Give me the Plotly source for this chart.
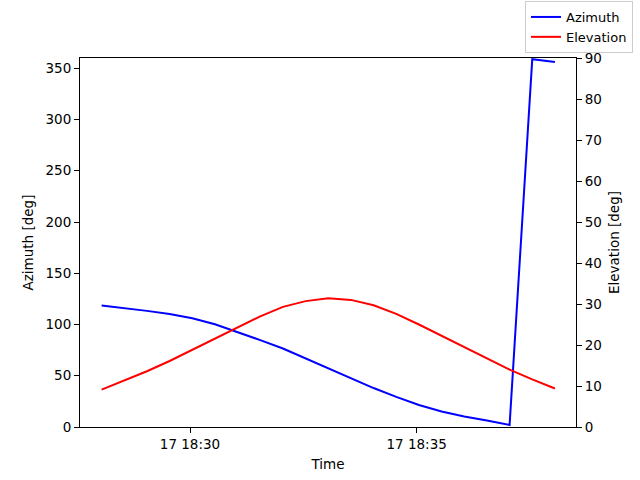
import plotly.graph_objects as go
import pandas as pd

start_time = "2023-05-17 18:28:03"
step_seconds = 30
azimuth = [118.5, 116.0, 113.3, 110.2, 106.0, 100.3, 92.8, 84.8, 76.6, 67.0,
           57.0, 47.2, 38.0, 29.4, 21.4, 15.2, 10.3, 6.3, 2.0, 358.8, 356.2]
elevation = [9.1, 11.3, 13.6, 16.1, 18.8, 21.6, 24.4, 27.0, 29.3, 30.7,
             31.4, 31.0, 29.7, 27.6, 25.0, 22.2, 19.4, 16.7, 14.0, 11.6, 9.4]
times = pd.date_range(start=start_time, periods=len(azimuth), freq=f"{step_seconds}s")

x_range = ["2023-05-17 18:27:34.4", "2023-05-17 18:38:30.9"]
az_ticks = [0, 50, 100, 150, 200, 250, 300, 350]
el_ticks = [0, 10, 20, 30, 40, 50, 60, 70, 80, 90]

font = dict(family="DejaVu Sans", size=13.5, color="black")
legend_font = dict(family="DejaVu Sans", size=13, color="black")

fig = go.Figure()
fig.add_trace(go.Scatter(x=times, y=azimuth, mode="lines", name="Azimuth",
                         line=dict(color="blue", width=2), yaxis="y"))
fig.add_trace(go.Scatter(x=times, y=elevation, mode="lines", name="Elevation",
                         line=dict(color="red", width=2), yaxis="y2"))

axis_common = dict(showline=True, linecolor="black", linewidth=1, ticks="outside",
                   ticklen=5, tickcolor="black", showgrid=False, zeroline=False,
                   tickfont=font, automargin=False)

fig.update_layout(
    width=640, height=480,
    margin=dict(l=80, r=64, t=58, b=53, autoexpand=False),
    plot_bgcolor="white", paper_bgcolor="white",
    font=font,
    xaxis=dict(**axis_common, range=x_range, tickformat="%d %H:%M", dtick=300000,
               mirror=True, title=dict(text="Time", font=font, standoff=8)),
    yaxis=dict(**axis_common, range=[0, 360], tickvals=az_ticks,
               title=dict(text="Azimuth [deg]", font=font, standoff=8)),
    yaxis2=dict(**axis_common, range=[0, 90], tickvals=el_ticks, overlaying="y",
                side="right", title=dict(text="Elevation [deg]", font=font, standoff=8)),
    legend=dict(x=(633 - 80) / 496, y=(427 - 1) / 369,
                xanchor="right", yanchor="top", bordercolor="#cccccc", borderwidth=1,
                bgcolor="rgba(255,255,255,0.8)", font=legend_font, tracegroupgap=0,
                itemwidth=30),
    showlegend=True,
)

fig.write_html("out.html", config={"displayModeBar": False},
               post_script="document.body.style.margin='0px';")
